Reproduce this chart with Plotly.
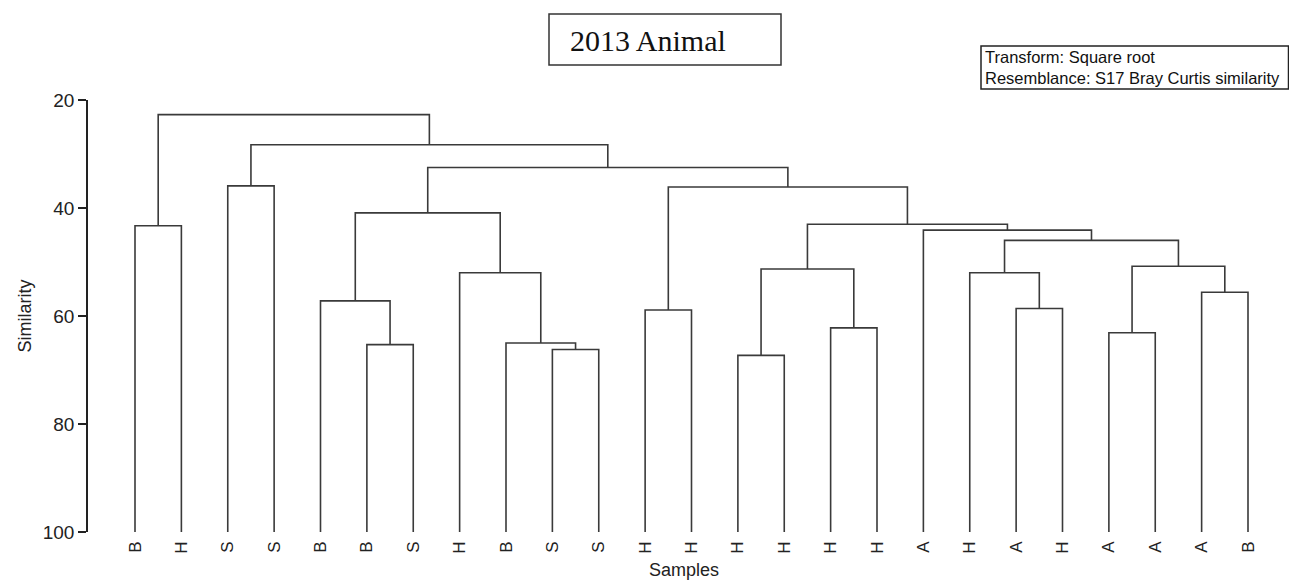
import plotly.graph_objects as go

# Sample labels along the dendrogram, left to right
leaf_labels = ["B", "H", "S", "S", "B", "B", "S", "H", "B", "S", "S", "H", "H",
               "H", "H", "H", "H", "A", "H", "A", "H", "A", "A", "A", "B"]

# Agglomeration steps: children (leaf index or 25 + step index) and similarity level
merge_left = [9, 8, 7, 5, 4, 29, 13, 15, 31, 19, 18, 21, 23, 36, 35, 17, 33, 11, 42, 30, 2, 45, 0, 47]
merge_right = [10, 25, 26, 6, 28, 27, 14, 16, 32, 20, 34, 22, 24, 37, 38, 39, 40, 12, 41, 43, 3, 44, 1, 46]
merge_level = [66.2, 65.0, 52.0, 65.3, 57.2, 40.9, 67.3, 62.2, 51.3, 58.6, 52.0, 63.1, 55.6,
               50.8, 46.0, 44.1, 43.0, 58.9, 36.1, 32.5, 35.9, 28.3, 43.3, 22.7]

y_ticks = [20, 40, 60, 80, 100]

n_leaves = len(leaf_labels)
pos = {i: float(i) for i in range(n_leaves)}
lvl = {i: 100.0 for i in range(n_leaves)}

xs, ys = [], []
for k, (a, b, h) in enumerate(zip(merge_left, merge_right, merge_level)):
    node = n_leaves + k
    xs += [pos[a], pos[a], pos[b], pos[b], None]
    ys += [lvl[a], h, h, lvl[b], None]
    pos[node] = (pos[a] + pos[b]) / 2
    lvl[node] = h

line_color = "#3a3a3a"

fig = go.Figure()
fig.add_trace(go.Scatter(x=xs, y=ys, mode="lines",
                         line=dict(color=line_color, width=1.6),
                         hoverinfo="skip", showlegend=False))

W, H = 1289, 582
ml, mr, mt, mb = 88, 9, 100, 50
pw, ph = W - ml - mr, H - mt - mb


def px(x):
    return (x - ml) / pw


def py(y):
    return (H - mb - y) / ph


fig.update_layout(
    width=W, height=H,
    margin=dict(l=ml, r=mr, t=mt, b=mb, pad=0),
    paper_bgcolor="white", plot_bgcolor="white",
    font=dict(family="Liberation Sans, Arial, sans-serif", color="#222"),
    xaxis=dict(
        range=[-1.0135, 24.69], automargin=False,
        tickmode="array", tickvals=list(range(n_leaves)), ticktext=leaf_labels,
        tickangle=-90, ticks="", showline=False, showgrid=False, zeroline=False,
        ticklabelstandoff=5,
        tickfont=dict(size=17, color="#222"),
        title=dict(text="Samples", font=dict(size=18, color="#222"), standoff=10),
    ),
    yaxis=dict(
        range=[100, 20], tickmode="array", tickvals=y_ticks, automargin=False,
        ticks="outside", ticklen=8, tickwidth=1.5, tickcolor="#222",
        showline=True, linecolor="#222", linewidth=1.5,
        showgrid=False, zeroline=False,
        tickfont=dict(size=19, color="#222"),
        title=dict(text="Similarity", font=dict(size=18, color="#222"), standoff=6),
    ),
    shapes=[
        dict(type="rect", xref="paper", yref="paper",
             x0=px(549), x1=px(781), y0=py(65), y1=py(14),
             line=dict(color="#333", width=1.5)),
        dict(type="rect", xref="paper", yref="paper",
             x0=px(981), x1=px(1288.5), y0=py(89), y1=py(46),
             line=dict(color="#222", width=1.5)),
    ],
    annotations=[
        dict(text="2013 Animal", xref="paper", yref="paper",
             x=px(568), y=py(40), xanchor="left", yanchor="middle",
             showarrow=False,
             font=dict(family="Liberation Serif, Times New Roman, serif", size=30, color="#111")),
        dict(text="Transform: Square root<br>Resemblance: S17 Bray Curtis similarity",
             xref="paper", yref="paper", x=px(983), y=py(67.5),
             xanchor="left", yanchor="middle", align="left", showarrow=False,
             font=dict(size=16.5, color="#111")),
    ],
)

fig.write_html("out.html")
